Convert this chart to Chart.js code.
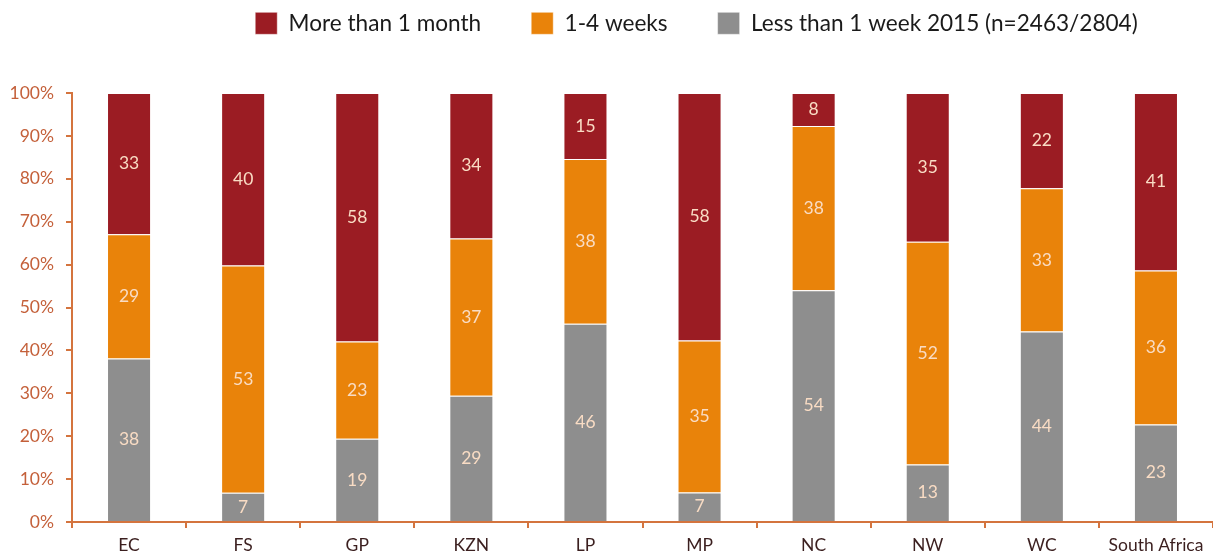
<!DOCTYPE html>
<html><head><meta charset="utf-8">
<script src="https://cdn.jsdelivr.net/npm/chart.js@4/dist/chart.umd.min.js"></script>
<style>html,body{margin:0;padding:0;background:#fff}#wrap{width:1213px;height:556px}</style>
</head><body><div id="wrap"><canvas id="c" width="1213" height="556"></canvas></div>
<script>
const categories = ['EC','FS','GP','KZN','LP','MP','NC','NW','WC','South Africa'];
const lessThanWeek = [38.1, 6.8, 19.4, 29.4, 46.2, 6.9, 54.0, 13.4, 44.4, 22.7];
const oneToFourWeeks = [29.0, 53.0, 22.7, 36.7, 38.4, 35.4, 38.3, 51.9, 33.4, 35.9];
const moreThanMonth = [32.9, 40.2, 57.9, 33.9, 15.4, 57.7, 7.7, 34.7, 22.2, 41.4];
const seriesNames = ['Less than 1 week 2015 (n=2463/2804)', '1-4 weeks', 'More than 1 month'];
const yTicks = [0,10,20,30,40,50,60,70,80,90,100];

const AXIS = '#d4743e';
const FONT = 'Lato, "Open Sans", sans-serif';

const valueLabels = {
  id: 'valueLabels',
  afterDatasetsDraw(chart) {
    const ctx = chart.ctx;
    ctx.save();
    ctx.font = '17.5px ' + FONT;
    ctx.fillStyle = '#f9dcc4';
    ctx.textAlign = 'center';
    ctx.textBaseline = 'middle';
    chart.data.datasets.forEach((ds, i) => {
      const meta = chart.getDatasetMeta(i);
      meta.data.forEach((bar, j) => {
        const p = bar.getProps(['x','y','base'], true);
        ctx.fillText(String(Math.round(ds.data[j])), p.x, (p.y + p.base) / 2);
      });
    });
    ctx.restore();
  }
};

const legendShift = {
  id: 'legendShift',
  beforeDraw(chart) {
    const lg = chart.legend;
    if (lg) { lg.left += 90; lg.right += 90; lg.top -= 38; }
  },
  beforeLayout(chart) {
    const lg = chart.legend;
    if (lg && !lg._patched) {
      const f = lg.fit.bind(lg);
      lg.fit = function () { f(); this.height = 93; };
      lg._patched = true;
    }
  }
};

new Chart(document.getElementById('c'), {
  type: 'bar',
  data: {
    labels: categories,
    datasets: [
      { label: seriesNames[0], data: lessThanWeek, backgroundColor: '#8e8e8e' },
      { label: seriesNames[1], data: oneToFourWeeks, backgroundColor: '#e9830a' },
      { label: seriesNames[2], data: moreThanMonth, backgroundColor: '#9b1c23' }
    ].map(d => Object.assign(d, { borderWidth: 1, borderColor: 'rgba(255,255,255,0.45)', categoryPercentage: 1, barPercentage: 0.386 }))
  },
  options: {
    responsive: false,
    animation: false,
    layout: { padding: { left: 0, right: 0, top: 0, bottom: 0 } },
    plugins: {
      tooltip: { enabled: false },
      legend: {
        position: 'top',
        reverse: true,
        labels: {
          font: { family: FONT, size: 22.6 },
          color: '#1a1a1a',
          boxWidth: 22, boxHeight: 22,
          padding: 50
        }
      }
    },
    scales: {
      x: {
        stacked: true,
        afterFit(s) { s.height = 34; },
        border: { color: AXIS, width: 2 },
        grid: { offset: true, drawOnChartArea: false, drawTicks: true, tickLength: 6, color: AXIS, lineWidth: 2 },
        ticks: { font: { family: FONT, size: 17.5 }, color: '#3b1f1f', padding: 7, maxRotation: 0, autoSkip: false }
      },
      y: {
        stacked: true,
        min: 0, max: 100,
        afterFit(s) { s.width = 72; },
        afterBuildTicks(s) { s.ticks = yTicks.map(v => ({ value: v })); },
        border: { color: AXIS, width: 2 },
        grid: { drawOnChartArea: false, drawTicks: true, tickLength: 6, color: AXIS, lineWidth: 2 },
        ticks: { font: { family: FONT, size: 17.5 }, color: '#c4603a', padding: 12, callback: v => v + '%' }
      }
    }
  },
  plugins: [valueLabels, legendShift]
});
</script></body></html>
